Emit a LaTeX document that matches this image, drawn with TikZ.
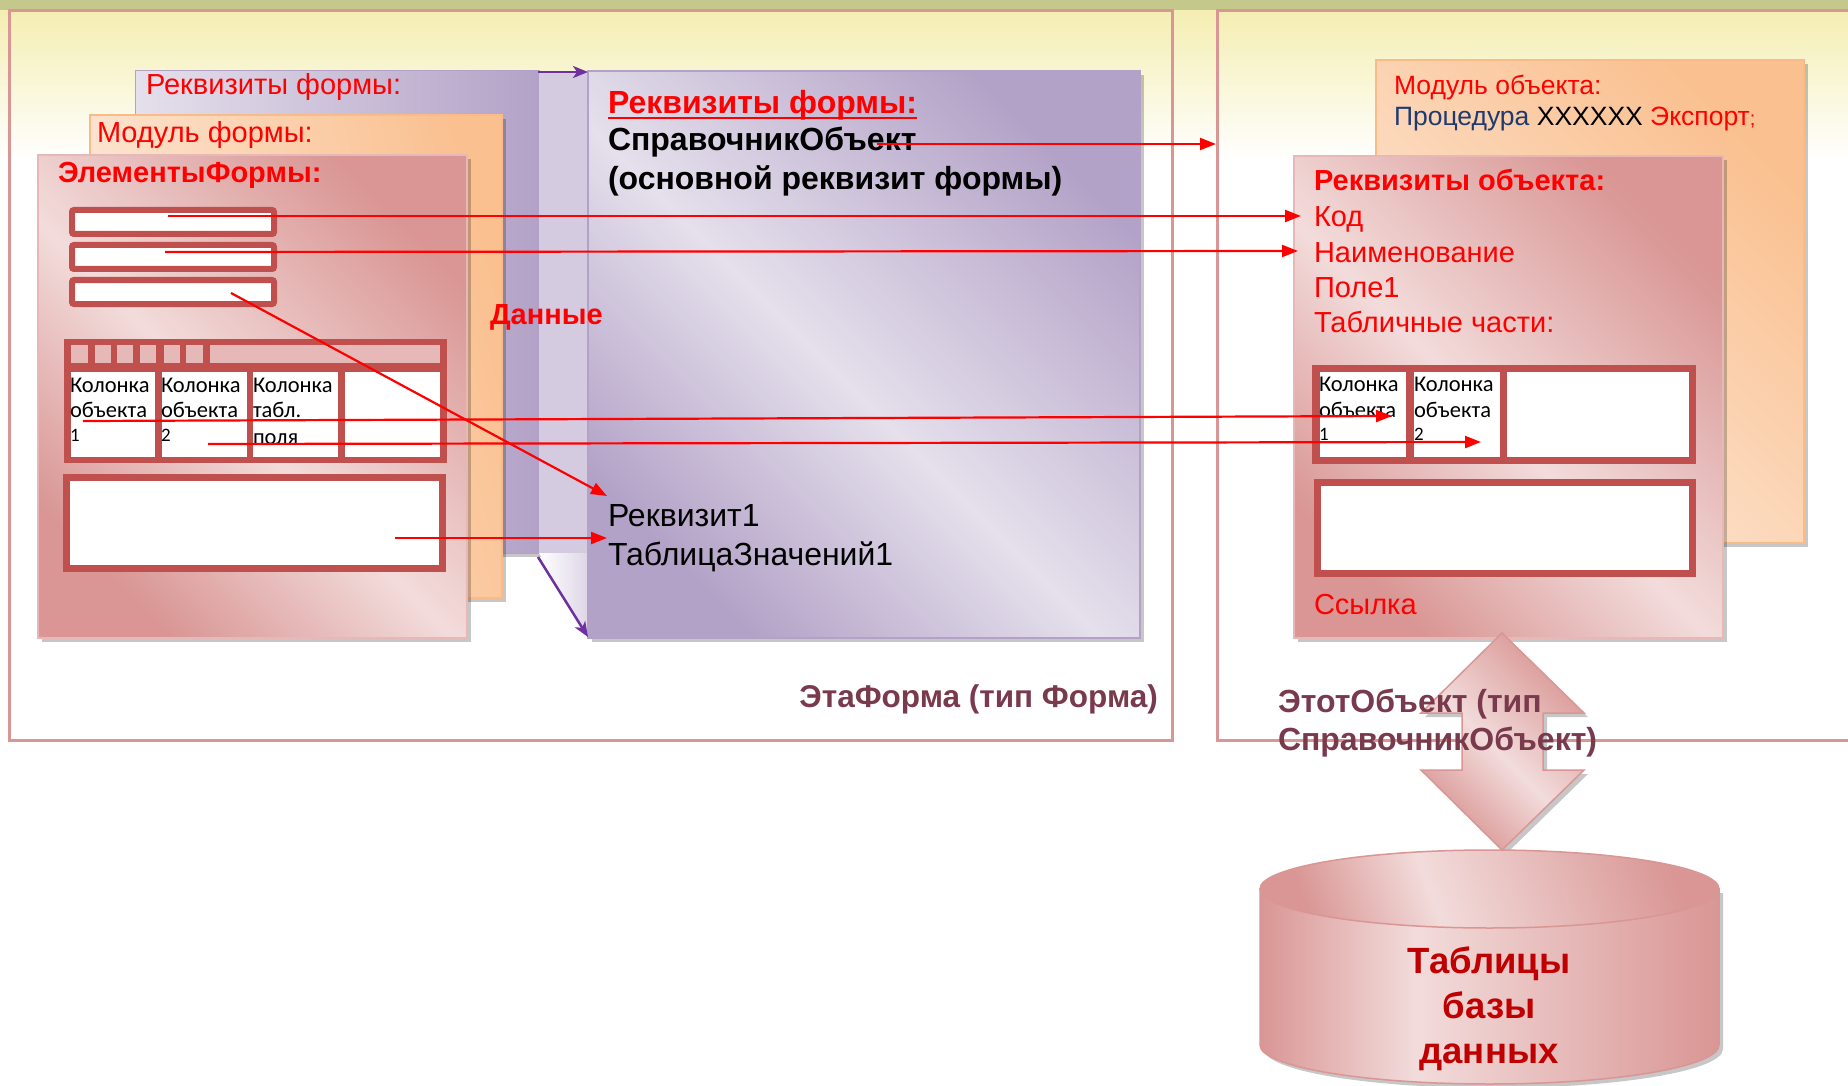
\documentclass[tikz,border=0pt]{standalone}
\usepackage{fontspec}
\setmainfont{Liberation Sans}
\newfontfamily\calfont{Carlito}
\usetikzlibrary{arrows.meta,shadows,calc}

\definecolor{bandol}{HTML}{C4C88A}
\definecolor{bandy}{HTML}{F4EEB2}
\definecolor{frm}{HTML}{D99694}
\definecolor{pkD}{HTML}{D99694}
\definecolor{pkL}{HTML}{F2DCDB}
\definecolor{pkB}{HTML}{E6B9B8}
\definecolor{puD}{HTML}{B3A2C7}
\definecolor{puL}{HTML}{E5E0EC}
\definecolor{puS}{HTML}{D5CBE1}
\definecolor{orD}{HTML}{FAC090}
\definecolor{orL}{HTML}{FDEADA}
\definecolor{orB}{HTML}{F9BC86}
\definecolor{tbl}{HTML}{C0504D}
\definecolor{hdr}{HTML}{E6B9B8}
\definecolor{arr}{HTML}{FF0000}
\definecolor{parr}{HTML}{7030A0}
\definecolor{maroon}{HTML}{7A3A4E}
\definecolor{navy}{HTML}{1F3A6E}
\definecolor{dbred}{HTML}{C00000}

\pgfdeclarehorizontalshading{pinkpanel}{100bp}{color(0bp)=(pkD); color(25bp)=(pkD); color(47bp)=(pkL); color(75bp)=(pkD); color(100bp)=(pkD)}
\pgfdeclarehorizontalshading{purppanel}{100bp}{color(0bp)=(puD); color(25bp)=(puD); color(47bp)=(puL); color(75bp)=(puD); color(100bp)=(puD)}
\pgfdeclarehorizontalshading{purpA}{100bp}{color(0bp)=(puL); color(25bp)=(puL); color(75bp)=(puD); color(100bp)=(puD)}
\pgfdeclarehorizontalshading{orpanel}{100bp}{color(0bp)=(orL); color(25bp)=(orL); color(75bp)=(orD); color(100bp)=(orD)}
\pgfdeclarehorizontalshading{cylsh}{100bp}{color(0bp)=(pkD); color(25bp)=(pkD); color(42bp)=(pkL); color(75bp)=(pkD); color(100bp)=(pkD)}

\tikzset{
  pshadow/.style={drop shadow={shadow xshift=4pt, shadow yshift=-4pt, opacity=0.22, fill=black}},
  panel/.style={anchor=north west, inner sep=0pt, outer sep=0pt, pshadow},
  pinkp/.style={panel, shading=pinkpanel, shading angle=45, draw=pkB, line width=1.5pt},
  purpB/.style={panel, shading=purppanel, shading angle=45, draw=puD, line width=1.5pt},
  purpAs/.style={panel, shading=purpA, shading angle=0, draw=puD, line width=1pt},
  orp/.style={panel, shading=orpanel, draw=orB, line width=1.5pt},
  txt/.style={inner sep=0pt, outer sep=0pt, anchor=base west},
  redtxt/.style={txt, text=arr},
  celltxt/.style={txt, font=\calfont\fontsize{22.5}{27}\selectfont},
  cellnum/.style={txt, font=\calfont\fontsize{19}{23}\selectfont},
  inbox/.style={draw=tbl, line width=6pt, fill=white, rounded corners=2pt},
  rarr/.style={draw=arr, line width=2.2pt, -{Triangle[length=16pt,width=12pt]}},
  parrow/.style={draw=parr, line width=2.5pt, -{Stealth[length=15pt,width=12pt,inset=4pt]}},
}

\begin{document}
\begin{tikzpicture}[x=1pt,y=-1pt]
\useasboundingbox (0,0) rectangle (1848,1086);
\fill[white] (0,0) rectangle (1848,1086);
% background
\shade[top color=bandy, bottom color=white] (0,10) rectangle (1848,160);
\fill[bandol] (0,0) rectangle (1848,10);

% frames
\draw[frm, line width=3pt] (9,11) rectangle (1172,740);
\draw[frm, line width=3pt] (1217,11) rectangle (1880,740);

% ---------- left group ----------
\node[purpAs, minimum width=404pt, minimum height=482pt] (pA) at (135,71) {};
\node[txt, text=arr, font=\fontsize{29}{34}\selectfont] (tA) at (146,95) {Реквизиты формы:};
\node[panel, fill=puS, draw=none, minimum width=49pt, minimum height=482pt] (strip) at (539,71) {};
\shade[left color=white, right color=puS!80] (539,553) -- (588,553) -- (588,638) -- cycle;
\node[purpB, minimum width=552pt, minimum height=567pt] (pB) at (588,71) {};

\node[orp, shading angle=15, minimum width=412pt, minimum height=483pt] (oL) at (90,115) {};
\node[redtxt, font=\fontsize{29}{34}\selectfont] (tOL) at (97,143) {Модуль формы:};

\node[pinkp, minimum width=429pt, minimum height=483pt] (kL) at (38,155) {};
\node[redtxt, font=\bfseries\fontsize{29}{34}\selectfont] (tEF) at (58,183) {ЭлементыФормы:};

% input boxes
\path[inbox] (72,210) rectangle (274,234);
\path[inbox] (72,245) rectangle (274,269);
\path[inbox] (72,280) rectangle (274,304);

% left table
\fill[tbl] (64,339) rectangle (447,463);
\foreach \a/\b in {71/88,95/111,117/133,140/156,164/180,186/203,210/440}
  \fill[hdr] (\a,345) rectangle (\b,363);
\foreach \a/\b in {71/155,162/247,253/338,345/440}
  \fill[white] (\a,372) rectangle (\b,457);
\node[celltxt] (lc1a) at (70,392) {Колонка};
\node[celltxt] (lc1b) at (70,417) {объекта};
\node[cellnum] (lc1c) at (70,441) {1};
\node[celltxt] (lc2a) at (161,392) {Колонка};
\node[celltxt] (lc2b) at (161,417) {объекта};
\node[cellnum] (lc2c) at (161,441) {2};
\node[celltxt] (lc3a) at (253,392) {Колонка};
\node[celltxt] (lc3b) at (253,417) {табл.};
\node[celltxt] (lc3c) at (253,444) {поля};

% lower left box
\draw[tbl, line width=7pt, fill=white] (66.5,477.5) rectangle (442.5,568.5);

% big panel texts
\node[redtxt, font=\bfseries\fontsize{32}{38}\selectfont] (tRF) at (608,114) {Реквизиты формы:};
\draw[arr, line width=2.5pt] ($(tRF.base west)+(0,4)$) -- ($(tRF.base east)+(0,4)$);
\node[txt, font=\bfseries\fontsize{32}{38}\selectfont] (tSO) at (608,151) {СправочникОбъект};
\node[txt, font=\bfseries\fontsize{32}{38}\selectfont] (tOS) at (608,190) {(основной реквизит формы)};
\node[txt, font=\fontsize{32}{38}\selectfont] (tR1) at (608,526) {Реквизит1};
\node[txt, font=\fontsize{32}{38}\selectfont] (tTZ) at (608,565) {ТаблицаЗначений1};
\node[redtxt, font=\bfseries\fontsize{29}{34}\selectfont] (tDan) at (490,324) {Данные};
\node[inner sep=0pt, anchor=base east, text=maroon, font=\bfseries\fontsize{31.5}{37}\selectfont] (tEtaF) at (1158,707) {ЭтаФорма (тип Форма)};

% purple arrows
\coordinate (pa1s) at (538,72); \coordinate (pa1e) at (588,72);
\coordinate (pa2s) at (538,557); \coordinate (pa2e) at (588,637);
\draw[parrow] (pa1s) -- (pa1e);
\draw[parrow] (pa2s) -- (pa2e);

% ---------- right group ----------
\node[orp, shading angle=45, minimum width=428pt, minimum height=483pt] (oR) at (1376,60) {};
\node[redtxt, font=\fontsize{26.5}{32}\selectfont] (tMO) at (1394,95) {Модуль объекта:};
\node[txt, font=\fontsize{26.5}{32}\selectfont] (tProc) at (1394,126) {\textcolor{navy}{Процедура} XXXXXX \textcolor{arr}{Экспорт\fontsize{20}{24}\selectfont;}};

\node[pinkp, minimum width=429pt, minimum height=482pt] (kR) at (1294,156) {};
\node[redtxt, font=\bfseries\fontsize{29}{35}\selectfont] (tRO) at (1314,191) {Реквизиты объекта:};
\node[redtxt, font=\fontsize{29}{35}\selectfont] (tKod) at (1314,227) {Код};
\node[redtxt, font=\fontsize{29}{35}\selectfont] (tNaim) at (1314,263) {Наименование};
\node[redtxt, font=\fontsize{29}{35}\selectfont] (tPole) at (1314,298) {Поле1};
\node[redtxt, font=\fontsize{29}{35}\selectfont] (tTab) at (1314,332) {Табличные части:};

% right table
\fill[tbl] (1312,365) rectangle (1696,464);
\foreach \a/\b in {1320/1406,1414/1500,1507/1689}
  \fill[white] (\a,372) rectangle (\b,457);
\node[celltxt] (rc1a) at (1319,391) {Колонка};
\node[celltxt] (rc1b) at (1319,417) {объекта};
\node[cellnum] (rc1c) at (1319,440) {1};
\node[celltxt] (rc2a) at (1414,391) {Колонка};
\node[celltxt] (rc2b) at (1414,417) {объекта};
\node[cellnum] (rc2c) at (1414,440) {2};
\draw[tbl, line width=7pt, fill=white] (1317.5,482.5) rectangle (1692.5,573.5);
\node[redtxt, font=\fontsize{29}{35}\selectfont] (tSsyl) at (1314,614) {Ссылка};

% double arrow
\path[pshadow, shading=pinkpanel, shading angle=45, draw=pkD, line width=1.5pt]
  (1502,633) -- (1584,713) -- (1543,713) -- (1543,770) -- (1584,770) -- (1502,850)
  -- (1421,770) -- (1462,770) -- (1462,713) -- (1421,713) -- cycle;

% cylinder
\path[pshadow, shading=cylsh, draw=pkD, line width=1.5pt]
  (1260,889) -- (1260,1045) arc[start angle=180, end angle=360, x radius=229.5pt, y radius=39pt]
  -- (1719,889) -- cycle;
\path[shading=cylsh, shading angle=20, draw=pkD, line width=1.5pt] (1489.5,889) ellipse [x radius=229.5pt, y radius=39pt];
\node[inner sep=0pt, anchor=base, text=dbred, font=\bfseries\fontsize{36.5}{42}\selectfont] (tT1) at (1489,973) {Таблицы};
\node[inner sep=0pt, anchor=base, text=dbred, font=\bfseries\fontsize{36.5}{42}\selectfont] (tT2) at (1489,1018) {базы};
\node[inner sep=0pt, anchor=base, text=dbred, font=\bfseries\fontsize{36.5}{42}\selectfont] (tT3) at (1489,1063) {данных};

\node[txt, text=maroon, font=\bfseries\fontsize{32}{38}\selectfont] (tEt1) at (1278,712) {ЭтотОбъект (тип};
\node[txt, text=maroon, font=\bfseries\fontsize{32}{38}\selectfont] (tEt2) at (1278,750) {СправочникОбъект)};

% red arrows
\coordinate (soS) at (877,144);  \coordinate (soE) at (1216,144);
\coordinate (b1S) at (168,216);  \coordinate (b1E) at (1301,216);
\coordinate (b2S) at (165,252);  \coordinate (b2E) at (1298,251);
\coordinate (b3S) at (231,293);  \coordinate (b3E) at (607,496);
\coordinate (c1S) at (83,421);   \coordinate (c1E) at (1392,416);
\coordinate (c2S) at (208,444);  \coordinate (c2E) at (1481,442);
\coordinate (lbS) at (395,538);  \coordinate (lbE) at (607,538);
\draw[rarr] (soS) -- (soE);
\draw[rarr] (b1S) -- (b1E);
\draw[rarr] (b2S) -- (b2E);
\draw[rarr] (b3S) -- (b3E);
\draw[rarr] (c1S) -- (c1E);
\draw[rarr] (c2S) -- (c2E);
\draw[rarr] (lbS) -- (lbE);
\end{tikzpicture}
\end{document}
